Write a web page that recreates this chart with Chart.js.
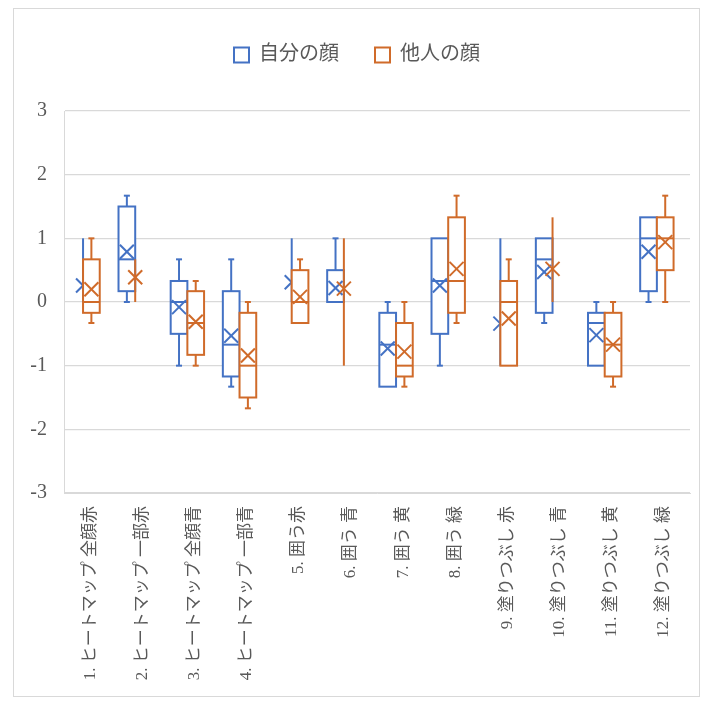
<!DOCTYPE html>
<html>
<head>
<meta charset="utf-8">
<script src="https://cdn.jsdelivr.net/npm/chart.js@4/dist/chart.umd.min.js"></script>
<style>
  html, body { margin: 0; padding: 0; background: #ffffff; }
  #wrap { position: relative; width: 713px; height: 702px; }
</style>
</head>
<body>
<div id="wrap"><canvas id="chart" width="713" height="702"></canvas></div>
<script>
// Condition names on the category axis
const categories = [
  '1. ヒートマップ 全顔赤', '2. ヒートマップ 一部赤', '3. ヒートマップ 全顔青', '4. ヒートマップ 一部青',
  '5. 囲う赤', '6. 囲う 青', '7. 囲う 黄', '8. 囲う 緑',
  '9. 塗りつぶし 赤', '10. 塗りつぶし 青', '11. 塗りつぶし 黄', '12. 塗りつぶし 緑'
];
const seriesNames = ['自分の顔', '他人の顔'];
const yTicks = [3, 2, 1, 0, -1, -2, -3];

// 自分の顔: five-number summary and mean per condition
const selfMin    = [0,    0,    -1,   -1.33, 0,    0,   -1.33, -1,   -1,    -0.33, -1,    0];
const selfQ1     = [0.33, 0.17, -0.5, -1.17, 0.33, 0,   -1.33, -0.5, -0.33, -0.17, -1,    0.17];
const selfMedian = [0.33, 0.67, 0,    -0.67, 0.33, 0,   -0.67, 0.33, -0.33, 0.67,  -0.33, 1];
const selfQ3     = [0.33, 1.5,  0.33, 0.17,  0.33, 0.5, -0.17, 1,    -0.33, 1,     -0.17, 1.33];
const selfMax    = [1,    1.67, 0.67, 0.67,  1,    1,   0,     1,    1,     1,     0,     1.33];
const selfMean   = [0.26, 0.79, -0.08, -0.53, 0.31, 0.22, -0.73, 0.26, -0.34, 0.47, -0.52, 0.79];

// 他人の顔: five-number summary and mean per condition
const otherMin    = [-0.33, 0,    -1,    -1.67, -0.33, -1,   -1.33, -0.33, -1,    0,    -1.33, 0];
const otherQ1     = [-0.17, 0.33, -0.83, -1.5,  -0.33, 0.33, -1.17, -0.17, -1,    0.67, -1.17, 0.5];
const otherMedian = [0,     0.33, -0.33, -1,    0,     0.33, -1,    0.33,  0,     0.67, -0.67, 1];
const otherQ3     = [0.67,  0.33, 0.17,  -0.17, 0.5,   0.33, -0.33, 1.33,  0.33,  0.67, -0.17, 1.33];
const otherMax    = [1,     0.67, 0.33,  0,     0.67,  1,    0,     1.67,  0.67,  1.33, 0,     1.67];
const otherMean   = [0.2,   0.39, -0.31, -0.84, 0.08,  0.21, -0.78, 0.52,  -0.26, 0.52, -0.67, 0.94];

const COLORS = ['#4472C4', '#D06B2A'];
const TEXT = '#595959';
const GRID = '#D9D9D9';
const FONT = "'Liberation Serif', 'Noto Sans CJK JP', serif";

const series = [
  { min: selfMin,  q1: selfQ1,  med: selfMedian,  q3: selfQ3,  max: selfMax,  mean: selfMean },
  { min: otherMin, q1: otherQ1, med: otherMedian, q3: otherQ3, max: otherMax, mean: otherMean }
];

// Draws box, whiskers, median and mean cross for each series via the chart scales
const boxWhisker = {
  id: 'boxWhisker',
  afterDatasetsDraw(chart) {
    const { ctx, scales: { x, y } } = chart;
    const slot = x.getPixelForValue(1) - x.getPixelForValue(0);
    const boxW = slot * 0.32;
    const shift = -slot * 0.135;
    const capW = boxW * 0.36;
    const mark = 7;
    ctx.save();
    ctx.lineWidth = 2;
    ctx.lineCap = 'butt';
    series.forEach((s, si) => {
      ctx.strokeStyle = COLORS[si];
      s.q1.forEach((_, i) => {
        const c = x.getPixelForValue(i) + shift;
        const flat = s.q1[i] === s.q3[i];
        const cx = flat ? c : (si === 0 ? c - boxW / 2 : c + boxW / 2);
        const py = v => y.getPixelForValue(v);
        const line = (x1, y1, x2, y2) => { ctx.beginPath(); ctx.moveTo(x1, y1); ctx.lineTo(x2, y2); ctx.stroke(); };
        if (flat) {
          line(cx, py(s.max[i]), cx, py(s.min[i]));
        } else {
          if (s.max[i] > s.q3[i]) {
            line(cx, py(s.q3[i]), cx, py(s.max[i]));
            line(cx - capW / 2, py(s.max[i]), cx + capW / 2, py(s.max[i]));
          }
          if (s.min[i] < s.q1[i]) {
            line(cx, py(s.q1[i]), cx, py(s.min[i]));
            line(cx - capW / 2, py(s.min[i]), cx + capW / 2, py(s.min[i]));
          }
          const top = py(s.q3[i]), bot = py(s.q1[i]);
          ctx.fillStyle = '#ffffff';
          ctx.fillRect(cx - boxW / 2, top, boxW, bot - top);
          ctx.strokeRect(cx - boxW / 2, top, boxW, bot - top);
          line(cx - boxW / 2, py(s.med[i]), cx + boxW / 2, py(s.med[i]));
        }
        const my = py(s.mean[i]);
        line(cx - mark, my - mark, cx + mark, my + mark);
        line(cx - mark, my + mark, cx + mark, my - mark);
      });
    });
    ctx.restore();
  }
};

// Frame around the whole chart; legend band height and placement
const frame = {
  id: 'frame',
  beforeLayout(chart) {
    const lg = chart.legend;
    if (lg && !lg._fixedHeight) {
      const fit = lg.fit;
      lg.fit = function () { fit.call(this); this.height = 111; };
      const draw = lg.draw;
      lg.draw = function () {
        this.ctx.save();
        this.ctx.translate(12, 9);
        draw.call(this);
        this.ctx.restore();
      };
      lg._fixedHeight = true;
    }
  },
  afterDraw(chart) {
    const ctx = chart.ctx;
    ctx.save();
    ctx.strokeStyle = GRID;
    ctx.lineWidth = 1;
    ctx.strokeRect(13.5, 8.5, 686, 688);
    ctx.restore();
  }
};

new Chart(document.getElementById('chart'), {
  type: 'bar',
  data: {
    labels: categories,
    datasets: seriesNames.map((name, i) => ({
      label: name,
      data: series[i].med,
      backgroundColor: 'rgba(0,0,0,0)',
      borderWidth: 0
    }))
  },
  options: {
    responsive: false,
    animation: false,
    events: [],
    layout: { padding: { left: 0, right: 23, top: 0, bottom: 0 } },
    plugins: {
      tooltip: { enabled: false },
      legend: {
        position: 'top',
        labels: {
          boxWidth: 15,
          boxHeight: 15,
          padding: 36,
          color: TEXT,
          font: { family: FONT, size: 20 },
          generateLabels: chart => chart.data.datasets.map((d, i) => ({
            text: d.label, fillStyle: '#ffffff', strokeStyle: COLORS[i], lineWidth: 2,
            datasetIndex: i, hidden: false, fontColor: TEXT
          }))
        }
      }
    },
    scales: {
      x: {
        grid: { display: false, drawTicks: false },
        border: { display: true, color: GRID },
        ticks: {
          autoSkip: false, minRotation: 90, maxRotation: 90, padding: 13,
          color: TEXT, font: { family: FONT, size: 17 }
        },
        afterFit(s) { s.height = 209; }
      },
      y: {
        min: -3, max: 3,
        afterBuildTicks(s) { s.ticks = yTicks.map(v => ({ value: v })); },
        grid: { color: GRID, lineWidth: 1.3, drawTicks: false },
        border: { display: true, color: GRID },
        ticks: { padding: 17, color: TEXT, font: { family: FONT, size: 20 } },
        afterFit(s) { s.width = 64; }
      }
    }
  },
  plugins: [boxWhisker, frame]
});
</script>
</body>
</html>
